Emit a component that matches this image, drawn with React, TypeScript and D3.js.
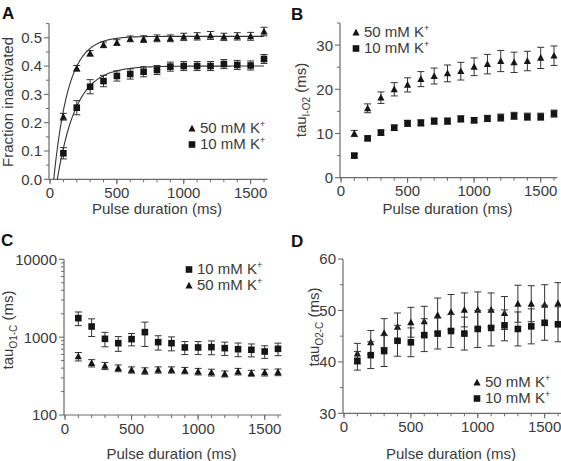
import React from "react";
import * as d3 from "d3";

const pulse = [100, 200, 300, 400, 500, 600, 700, 800, 900, 1000, 1100, 1200, 1300, 1400, 1500, 1600];

// Panel A: fraction inactivated
const fracK50 = [0.221, 0.392, 0.445, 0.475, 0.483, 0.496, 0.495, 0.498, 0.498, 0.503, 0.505, 0.508, 0.503, 0.505, 0.505, 0.522];
const fracK50Err = [0.012, 0.01, 0.01, 0.01, 0.01, 0.01, 0.012, 0.012, 0.012, 0.013, 0.013, 0.014, 0.013, 0.013, 0.014, 0.015];
const fracK10 = [0.092, 0.253, 0.327, 0.347, 0.365, 0.372, 0.38, 0.386, 0.398, 0.4, 0.4, 0.4, 0.407, 0.404, 0.402, 0.425];
const fracK10Err = [0.02, 0.025, 0.025, 0.02, 0.018, 0.018, 0.018, 0.016, 0.016, 0.016, 0.016, 0.016, 0.016, 0.016, 0.016, 0.016];
// exponential fit parameters [amplitude, delay (ms), tau (ms)]
const fitK50 = [0.505, 28, 110];
const fitK10 = [0.4, 55, 140];

// Panel B: tau I-O2
const tauIO2K50 = [10.0, 15.7, 18.1, 20.0, 21.0, 22.3, 23.0, 23.6, 24.1, 25.1, 25.7, 26.4, 26.1, 26.4, 27.1, 27.6];
const tauIO2K50Err = [0.7, 1.0, 1.3, 1.5, 1.6, 1.7, 1.8, 1.9, 2.0, 2.0, 2.2, 2.4, 2.3, 2.2, 2.4, 2.2];
const tauIO2K10 = [5.0, 8.9, 10.2, 11.3, 12.3, 12.4, 12.8, 12.8, 13.3, 13.0, 13.4, 13.6, 14.0, 13.8, 13.8, 14.5];
const tauIO2K10Err = [0.5, 0.5, 0.6, 0.6, 0.7, 0.7, 0.7, 0.7, 0.7, 0.6, 0.7, 0.8, 0.8, 0.8, 0.8, 0.8];

// Panel C: tau O1-C (log)
const tauO1CK10 = [1755, 1370, 952, 837, 943, 1160, 862, 837, 737, 737, 744, 722, 701, 688, 654, 708];
const tauO1CK10Err = [350, 350, 200, 180, 170, 400, 180, 170, 140, 140, 150, 140, 140, 130, 120, 130];
const tauO1CK50 = [565, 464, 428, 400, 380, 369, 380, 380, 373, 362, 352, 338, 362, 345, 352, 355];
const tauO1CK50Err = [70, 50, 45, 40, 35, 35, 35, 35, 35, 35, 35, 30, 35, 30, 35, 35];

// Panel D: tau O2-C
const tauO2CK50 = [41.6, 43.8, 45.6, 46.8, 47.7, 47.9, 49.1, 49.7, 50.1, 50.1, 50.1, 49.5, 51.3, 51.3, 51.1, 51.4];
const tauO2CK50Err = [2.0, 2.3, 2.8, 2.7, 2.9, 2.9, 3.3, 3.4, 3.3, 3.5, 3.3, 3.2, 3.6, 3.5, 3.9, 4.0];
const tauO2CK10 = [40.2, 41.3, 42.1, 44.1, 43.8, 45.2, 45.5, 46.0, 45.5, 46.4, 46.6, 47.1, 46.4, 46.9, 47.6, 47.3];
const tauO2CK10Err = [1.8, 2.6, 3.0, 3.0, 2.8, 3.2, 3.0, 3.2, 3.2, 3.6, 3.5, 3.0, 3.3, 3.4, 3.4, 3.4];

const xTicks = [0, 500, 1000, 1500];
const xMinor = d3.range(0, 1700, 100);

const FONT = "Liberation Sans, Arial, sans-serif";
const TXT = "#3a3a3a";
const AX = "#6a6a6a";
const MK = "#151515";
const FS = 15;

type Series = { vals: number[]; err: number[]; shape: "tri" | "sq" };
type Leg = { shape: "tri" | "sq"; label: string }[];

function Marker({ x, y, shape }: { x: number; y: number; shape: "tri" | "sq" }) {
  if (shape === "sq") return <rect x={x - 3.3} y={y - 3.3} width={6.6} height={6.6} fill={MK} />;
  return <path d={`M${x},${y - 3.8}L${x + 3.6},${y + 2.9}L${x - 3.6},${y + 2.9}Z`} fill={MK} />;
}

function Panel(props: {
  letter: string; lx: number; ly: number;
  x0: number; x1: number; yBottom: number; yTop: number;
  yDomain: [number, number]; log?: boolean;
  yTicks: number[]; yMinor: number[]; yFmt: (v: number) => string;
  ylab: React.ReactNode; ylx: number; yly: number;
  xlabY: number;
  series: Series[]; legend: Leg; legX: number; legY: number;
  fits?: number[][];
}) {
  const p = props;
  const x = d3.scaleLinear().domain([0, 1600]).range([p.x0, p.x1]);
  const y = p.log
    ? d3.scaleLog().domain(p.yDomain).range([p.yBottom, p.yTop])
    : d3.scaleLinear().domain(p.yDomain).range([p.yBottom, p.yTop]);
  const axX = p.x0 - 1;
  const xEnd = x(1625);
  const line = d3.line<[number, number]>().x((d) => x(d[0])).y((d) => y(d[1]));
  return (
    <g fontFamily={FONT}>
      <text x={p.lx} y={p.ly} fontSize={17} fontWeight="bold" fill="#111">{p.letter}</text>
      <line x1={axX} x2={axX} y1={p.yBottom} y2={p.yTop} stroke={AX} strokeWidth={1.2} />
      <line x1={axX} x2={xEnd} y1={p.yBottom} y2={p.yBottom} stroke={AX} strokeWidth={1.2} />
      {p.yMinor.map((v, i) => (
        <line key={"ym" + i} x1={axX - 3} x2={axX} y1={y(v)} y2={y(v)} stroke={AX} strokeWidth={1} />
      ))}
      {p.yTicks.map((v, i) => (
        <g key={"yt" + i}>
          <line x1={axX - 5} x2={axX} y1={y(v)} y2={y(v)} stroke={AX} strokeWidth={1.1} />
          <text x={axX - 7} y={y(v)} dy="0.36em" textAnchor="end" fontSize={FS} fill={TXT}>{p.yFmt(v)}</text>
        </g>
      ))}
      {xMinor.map((v, i) => (
        <line key={"xm" + i} x1={x(v)} x2={x(v)} y1={p.yBottom} y2={p.yBottom + 3} stroke={AX} strokeWidth={1} />
      ))}
      {xTicks.map((v, i) => (
        <g key={"xt" + i}>
          <line x1={x(v)} x2={x(v)} y1={p.yBottom} y2={p.yBottom + 5} stroke={AX} strokeWidth={1.1} />
          <text x={x(v)} y={p.yBottom + 18.5} textAnchor="middle" fontSize={FS} fill={TXT}>{v}</text>
        </g>
      ))}
      <text x={(p.x0 + x(1600)) / 2} y={p.xlabY} textAnchor="middle" fontSize={FS} fill={TXT}>Pulse duration (ms)</text>
      <text transform={`translate(${p.ylx},${p.yly}) rotate(-90)`} textAnchor="middle" dy="0.35em" fontSize={FS} fill={TXT}>{p.ylab}</text>
      {p.fits && p.fits.map((f, i) => {
        const pts: [number, number][] = d3.range(f[1], 1601, 5).map((t) => [t, f[0] * (1 - Math.exp(-(t - f[1]) / f[2]))]);
        return <path key={"f" + i} d={line(pts) || ""} fill="none" stroke="#333" strokeWidth={1.1} />;
      })}
      {p.series.map((s, si) => (
        <g key={"s" + si}>
          {pulse.map((t, i) => {
            const cx = x(t);
            const lo = y(Math.max(s.vals[i] - s.err[i], p.log ? 1 : -1e9));
            const hi = y(s.vals[i] + s.err[i]);
            return (
              <g key={i}>
                <line x1={cx} x2={cx} y1={lo} y2={hi} stroke="#333" strokeWidth={1} />
                <line x1={cx - 3.5} x2={cx + 3.5} y1={lo} y2={lo} stroke="#333" strokeWidth={1} />
                <line x1={cx - 3.5} x2={cx + 3.5} y1={hi} y2={hi} stroke="#333" strokeWidth={1} />
                <Marker x={cx} y={y(s.vals[i])} shape={s.shape} />
              </g>
            );
          })}
        </g>
      ))}
      {p.legend.map((l, i) => (
        <g key={"l" + i}>
          <Marker x={p.legX} y={p.legY + i * 16 - 4.5} shape={l.shape} />
          <text x={p.legX + 8} y={p.legY + i * 16} fontSize={FS} fill={TXT}>
            {l.label}
            <tspan fontSize={9} dy={-6}>+</tspan>
          </text>
        </g>
      ))}
    </g>
  );
}

const tauLabel = (sub: string) => (
  <>
    tau<tspan fontSize={10} dy={4}>{sub}</tspan>
    <tspan dy={-4}> (ms)</tspan>
  </>
);

export default function App() {
  return (
    <svg width={561} height={461} style={{ position: "absolute", left: 0, top: 0, background: "#fff" }}>
      <Panel
        letter="A" lx={2} ly={19}
        x0={50} x1={264} yBottom={179.3} yTop={23.6} yDomain={[0, 0.55]}
        yTicks={[0, 0.1, 0.2, 0.3, 0.4, 0.5]} yMinor={d3.range(0.05, 0.56, 0.1)}
        yFmt={(v) => v.toFixed(1)}
        ylab="Fraction inactivated" ylx={8} yly={102} xlabY={214}
        series={[
          { vals: fracK50, err: fracK50Err, shape: "tri" },
          { vals: fracK10, err: fracK10Err, shape: "sq" },
        ]}
        fits={[fitK50, fitK10]}
        legend={[{ shape: "tri", label: "50 mM K" }, { shape: "sq", label: "10 mM K" }]}
        legX={192} legY={133}
      />
      <Panel
        letter="B" lx={291} ly={20}
        x0={341} x1={554} yBottom={177.7} yTop={23} yDomain={[0, 35]}
        yTicks={[0, 10, 20, 30]} yMinor={[5, 15, 25, 35]}
        yFmt={(v) => String(v)}
        ylab={tauLabel("I-O2")} ylx={301} yly={100} xlabY={214}
        series={[
          { vals: tauIO2K50, err: tauIO2K50Err, shape: "tri" },
          { vals: tauIO2K10, err: tauIO2K10Err, shape: "sq" },
        ]}
        legend={[{ shape: "tri", label: "50 mM K" }, { shape: "sq", label: "10 mM K" }]}
        legX={356} legY={37}
      />
      <Panel
        letter="C" lx={1} ly={246}
        x0={65} x1={278} yBottom={415} yTop={259.3} yDomain={[100, 10000]} log
        yTicks={[100, 1000, 10000]}
        yMinor={[200, 300, 400, 500, 600, 700, 800, 900, 2000, 3000, 4000, 5000, 6000, 7000, 8000, 9000]}
        yFmt={(v) => String(v)}
        ylab={tauLabel("O1-C")} ylx={8} yly={330} xlabY={459}
        series={[
          { vals: tauO1CK10, err: tauO1CK10Err, shape: "sq" },
          { vals: tauO1CK50, err: tauO1CK50Err, shape: "tri" },
        ]}
        legend={[{ shape: "sq", label: "10 mM K" }, { shape: "tri", label: "50 mM K" }]}
        legX={189} legY={274}
      />
      <Panel
        letter="D" lx={291} ly={247}
        x0={344} x1={558} yBottom={413.3} yTop={259} yDomain={[30, 60]}
        yTicks={[30, 40, 50, 60]} yMinor={[35, 45, 55]}
        yFmt={(v) => String(v)}
        ylab={tauLabel("O2-C")} ylx={314} yly={327} xlabY={459}
        series={[
          { vals: tauO2CK50, err: tauO2CK50Err, shape: "tri" },
          { vals: tauO2CK10, err: tauO2CK10Err, shape: "sq" },
        ]}
        legend={[{ shape: "tri", label: "50 mM K" }, { shape: "sq", label: "10 mM K" }]}
        legX={477} legY={387}
      />
    </svg>
  );
}
